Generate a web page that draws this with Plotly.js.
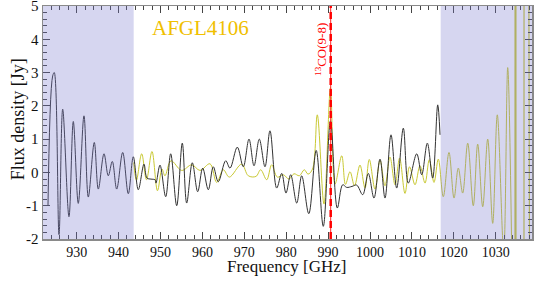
<!DOCTYPE html>
<html>
<head>
<meta charset="utf-8">
<script src="https://cdn.plot.ly/plotly-3.0.1.min.js"></script>
<style>html,body{margin:0;padding:0;background:#fff;}#chart{width:538px;height:286px;}</style>
</head>
<body>
<div id="chart"></div>
<script>
// Black spectrum (GHz, Jy) – extrema
const blackFreq = [923.15, 924.27, 924.65, 925.78, 926.66, 928.16, 929.19, 930.38, 931.74, 932.77,
  934.20, 935.16, 936.52, 937.54, 938.50, 939.55, 940.98, 942.32, 943.51, 944.70,
  946.06, 946.78, 947.73, 948.69, 948.93, 949.88, 951.24, 952.43, 953.87, 955.20,
  956.25, 957.59, 958.88, 960.07, 961.41, 962.60, 963.79, 965.56, 966.59, 968.33,
  969.76, 971.12, 972.32, 973.58, 974.94, 976.13, 977.73, 978.93, 979.95, 981.07,
  982.51, 983.70, 985.39, 987.16, 988.85, 990.57, 992.20, 993.48, 994.44, 995.70,
  996.83, 998.26, 999.59, 1000.95, 1002.39, 1003.58, 1005.01, 1006.37, 1007.95, 1009.14,
  1011.15, 1012.34, 1013.68, 1014.96, 1016.16, 1016.71];
const blackFlux = [-1.0, 2.9, 3.0, -1.87, 1.9, -1.33, 1.53, -0.93, 1.70, -0.74,
  0.9, -0.5, 0.56, -0.1, 0.33, -0.5, 0.6, -0.64, 0.47, -0.52,
  0.25, -0.17, -0.2, -0.22, -0.32, 0.22, -0.73, 0.56, -1.0, 0.88,
  -0.92, 0.29, -0.58, 0.13, -0.52, 0.17, -0.28, 0.35, 0.13, 0.76,
  0.17, 1.0, 0.2, 1.0, 0.17, 1.25, -0.47, -0.03, -0.62, -0.07,
  -0.92, -0.1, -1.24, 0.66, -1.62, 1.55, -1.07, -0.37, -0.45, -0.42,
  -0.38, -0.67, -0.03, -0.77, 0.4, -0.77, 1.13, -0.47, 1.33, -0.32,
  0.56, -0.07, 0.88, -0.17, 2.03, 1.13];

// Yellow spectrum (GHz, Jy), smooth part
const yellowFreq = [943.60, 944.27, 945.51, 946.66, 947.97, 949.28, 950.36, 951.07, 952.51, 955.06,
  957.45, 959.43, 961.81, 963.41, 964.99, 966.42, 969.38, 970.95, 972.79, 973.91,
  975.35, 976.54, 977.88, 979.31, 980.67, 981.86, 983.13, 984.32, 985.20, 986.28,
  987.42, 989.02, 990.57, 991.65, 993.25, 994.15, 995.23, 996.30, 997.61, 998.81,
  999.83, 1001.19, 1002.39, 1003.58, 1004.77, 1005.97, 1007.07, 1008.35, 1009.43, 1010.74,
  1011.93, 1013.13, 1014.15, 1015.27, 1016.30, 1017.49, 1018.85, 1020.05, 1021.07, 1022.12,
  1023.32, 1024.65, 1025.70, 1026.90, 1028.09, 1029.28, 1030.38, 1031.91, 1032.86, 1033.85];
const yellowFlux = [0.3, -0.23, 0.56, -0.22, 0.63, -0.55, 0.1, -0.1, 0.35, 0.06,
  0.23, 0.06, 0.26, -0.3, 0.08, -0.14, 0.25, -0.1, -0.12, 0.08,
  -0.22, 0.23, -0.14, -0.07, -0.2, -0.04, -0.1, 0.08, -0.05, 0.1,
  1.73, -0.95, 2.55, -0.35, 0.5, -0.36, 0.02, -0.4, 0.22, -0.47,
  0.39, -0.5, 0.37, -0.4, 0.46, -0.37, 0.43, -0.63, 0.17, -0.37,
  0.2, -0.32, 0.38, -0.3, 0.4, -0.73, 0.6, -0.77, 0.13, -0.62,
  0.88, -1.0, 0.85, -1.03, 1.0, -1.53, 1.73, -2.4, 3.15, -2.6];
// Yellow spectrum, diverging band edge (values far outside the plotted range)
const yellowTailFreq = [1033.85, 1034.55, 1034.72, 1034.89, 1036.70, 1036.85, 1037.02, 1038.60];
const yellowTailFlux = [-2.6, -30, 60, -30, -30, 60, -30, -30];

const xTickVals = [930, 940, 950, 960, 970, 980, 990, 1000, 1010, 1020, 1030];
const xTickText = ['930', '940', '950', '960', '970', '980', '990', '1000', '1010', '1020', '1030'];
const yTickVals = [-2, -1, 0, 1, 2, 3, 4, 5];
const yTickText = ['-2', '-1', '0', '1', '2', '3', '4', '5'];

const xRange = [921.96, 1038.66];
const yRange = [-2, 5];
const shadeLeft = [921.96, 943.6];
const shadeRight = [1016.87, 1038.66];
const lineFreq = 990.62;
const objectName = 'AFGL4106';
const lineName = '<sup>13</sup>CO(9-8)';
const xTitle = 'Frequency [GHz]';
const yTitle = 'Flux density [Jy]';

const serif = 'Liberation Serif';
const yellow = '#c9c934';

const traces = [
  {x: yellowFreq, y: yellowFlux, type: 'scatter', mode: 'lines',
   line: {color: yellow, width: 1, shape: 'spline', smoothing: 1}, hoverinfo: 'skip'},
  {x: yellowTailFreq, y: yellowTailFlux, type: 'scatter', mode: 'lines',
   line: {color: yellow, width: 1.2, shape: 'linear'}, hoverinfo: 'skip'},
  {x: blackFreq, y: blackFlux, type: 'scatter', mode: 'lines',
   line: {color: '#333333', width: 1, shape: 'spline', smoothing: 1}, hoverinfo: 'skip'}
];

const layout = {
  width: 538, height: 286,
  margin: {l: 43, r: 6, t: 6, b: 47},
  paper_bgcolor: '#ffffff', plot_bgcolor: '#ffffff',
  showlegend: false,
  font: {family: serif, color: '#111'},
  xaxis: {
    range: xRange, tickvals: xTickVals, ticktext: xTickText,
    ticks: 'inside', ticklen: 7, tickwidth: 1, tickcolor: '#444',
    minor: {dtick: 2, tick0: 930, ticks: 'inside', ticklen: 4, tickcolor: '#444', showgrid: false},
    showline: true, linecolor: '#8a8a8a', linewidth: 1.5, mirror: 'ticks',
    showgrid: false, zeroline: false, ticklabeloverflow: 'allow',
    tickfont: {family: serif, size: 14, color: '#111'}
  },
  yaxis: {
    range: yRange, tickvals: yTickVals, ticktext: yTickText,
    ticks: 'inside', ticklen: 7, tickwidth: 1, tickcolor: '#444',
    minor: {dtick: 0.2, tick0: 0, ticks: 'inside', ticklen: 4, tickcolor: '#444', showgrid: false},
    showline: true, linecolor: '#8a8a8a', linewidth: 1.5, mirror: 'ticks',
    showgrid: false, zeroline: false, ticklabeloverflow: 'allow',
    tickfont: {family: serif, size: 15, color: '#111'}
  },
  shapes: [
    {type: 'rect', layer: 'above', xref: 'x', yref: 'paper', x0: shadeLeft[0], x1: shadeLeft[1], y0: 0, y1: 1,
     fillcolor: 'rgba(120,120,205,0.3)', line: {width: 0}},
    {type: 'rect', layer: 'above', xref: 'x', yref: 'paper', x0: shadeRight[0], x1: shadeRight[1], y0: 0, y1: 1,
     fillcolor: 'rgba(120,120,205,0.3)', line: {width: 0}},
    {type: 'line', layer: 'above', xref: 'x', yref: 'paper', x0: lineFreq, x1: lineFreq, y0: 0, y1: 1,
     line: {color: '#ff2020', width: 1}},
    {type: 'line', layer: 'above', xref: 'x', yref: 'paper', x0: lineFreq, x1: lineFreq, y0: 0, y1: 1,
     line: {color: '#ff0000', width: 2.5, dash: '7px,4px'}}
  ],
  annotations: [
    {text: objectName, xref: 'paper', yref: 'paper', x: 0.219, y: 0.906, xanchor: 'left', yanchor: 'middle',
     showarrow: false, font: {family: serif, size: 21, color: '#f0c000'}},
    {text: lineName, xref: 'x', yref: 'y', x: 988.3, y: 3.71, xanchor: 'center', yanchor: 'middle',
     textangle: -90, showarrow: false, font: {family: serif, size: 13, color: '#ff0000'}},
    {text: xTitle, xref: 'paper', yref: 'paper', x: 0.4975, y: -0.118, xanchor: 'center', yanchor: 'middle',
     showarrow: false, font: {family: serif, size: 17, color: '#111'}},
    {text: yTitle, xref: 'paper', yref: 'paper', x: -0.0511, y: 0.514, xanchor: 'center', yanchor: 'middle',
     textangle: -90, showarrow: false, font: {family: serif, size: 18, color: '#111'}}
  ]
};

Plotly.newPlot('chart', traces, layout, {staticPlot: true, displayModeBar: false});
</script>
</body>
</html>
